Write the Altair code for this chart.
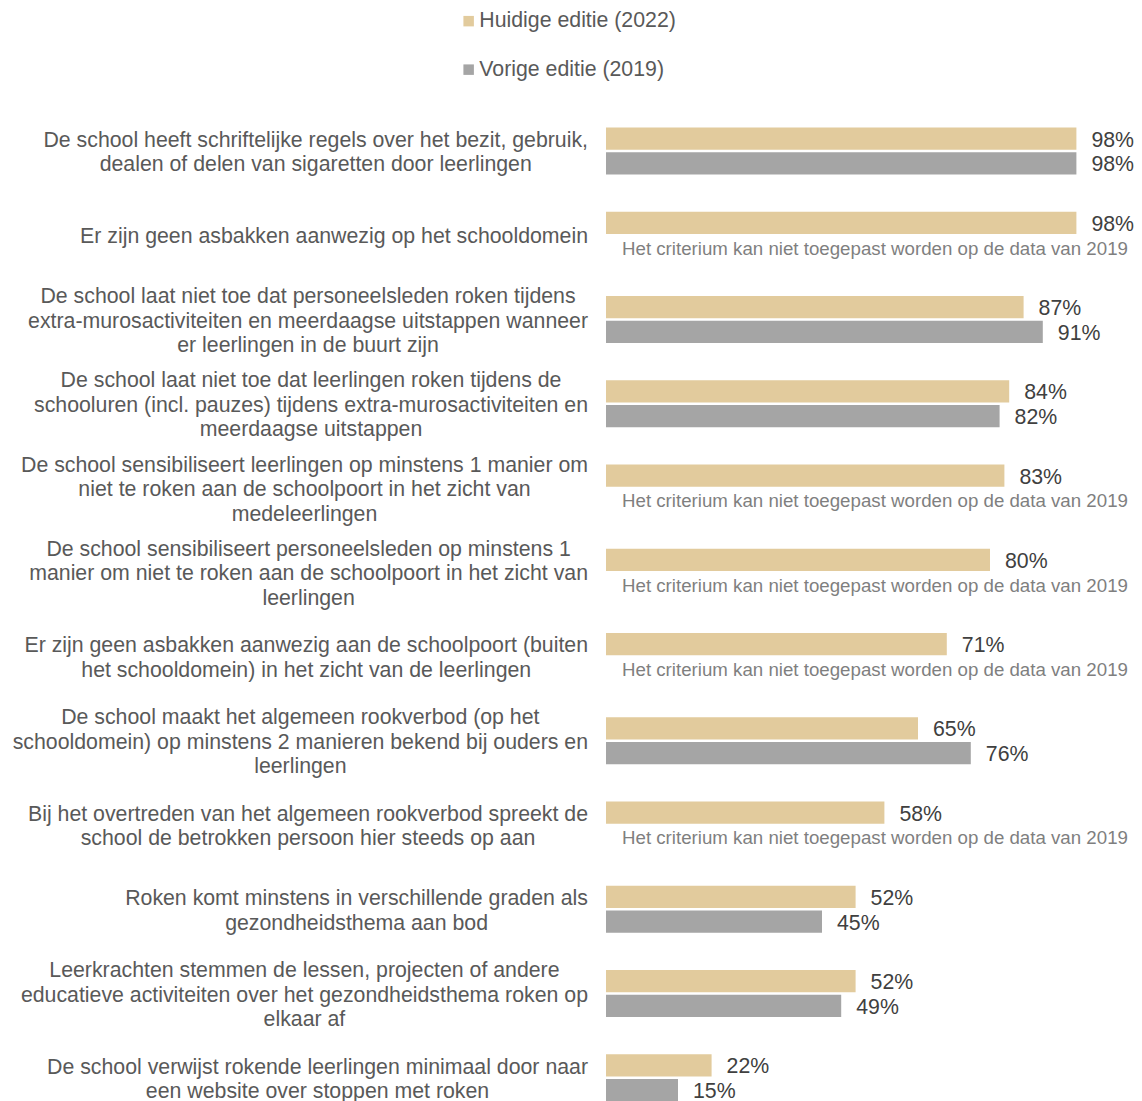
import altair as alt
import pandas as pd

# ---------------- data ----------------
categories = [
    "De school heeft schriftelijke regels over het bezit, gebruik,|dealen of delen van sigaretten door leerlingen",
    "Er zijn geen asbakken aanwezig op het schooldomein",
    "De school laat niet toe dat personeelsleden roken tijdens|extra-murosactiviteiten en meerdaagse uitstappen wanneer|er leerlingen in de buurt zijn",
    "De school laat niet toe dat leerlingen roken tijdens de|schooluren (incl. pauzes) tijdens extra-murosactiviteiten en|meerdaagse uitstappen",
    "De school sensibiliseert leerlingen op minstens 1 manier om|niet te roken aan de schoolpoort in het zicht van|medeleerlingen",
    "De school sensibiliseert personeelsleden op minstens 1|manier om niet te roken aan de schoolpoort in het zicht van|leerlingen",
    "Er zijn geen asbakken aanwezig aan de schoolpoort (buiten|het schooldomein) in het zicht van de leerlingen",
    "De school maakt het algemeen rookverbod (op het|schooldomein) op minstens 2 manieren bekend bij ouders en|leerlingen",
    "Bij het overtreden van het algemeen rookverbod spreekt de|school de betrokken persoon hier steeds op aan",
    "Roken komt minstens in verschillende graden als|gezondheidsthema aan bod",
    "Leerkrachten stemmen de lessen, projecten of andere|educatieve activiteiten over het gezondheidsthema roken op|elkaar af",
    "De school verwijst rokende leerlingen minimaal door naar|een website over stoppen met roken",
]
values_2022 = [98, 98, 87, 84, 83, 80, 71, 65, 58, 52, 52, 22]
values_2019 = [98, None, 91, 82, None, None, None, 76, None, 45, 49, 15]
series = ["Huidige editie (2022)", "Vorige editie (2019)"]
note_text = "Het criterium kan niet toegepast worden op de data van 2019"

# ---------------- styling / layout constants ----------------
FONT = "Liberation Sans"
LABEL_FS = 21.3
VALUE_FS = 21.3
NOTE_FS = 18.7
LINE_H = 24.5
TAN = "#E2CB9D"
GRAY = "#A5A5A5"
W, H = 1126, 1100
X0_PX = 598.0      # pixel position of 0 %
PX_PER = 4.8       # pixels per percentage point
DOMAIN = [-X0_PX / PX_PER, (W - X0_PX) / PX_PER]
LABEL_RIGHT_PX = 580.0
STEP = 84.25
FIRST_CENTER = 143.0
BAND = 47.0
P_IN = 1 - BAND / STEP
R0 = FIRST_CENTER - STEP / 2
TEXT_DY = 2

# Arial / Liberation Sans advance widths (per 1000 em) for text measurement
_AW = {' ': 278, '!': 278, '(': 333, ')': 333, ',': 278, '-': 333, '.': 278, '/': 278, ':': 278, '%': 889,
       'A': 667, 'B': 667, 'C': 722, 'D': 722, 'E': 667, 'F': 611, 'G': 778, 'H': 722, 'I': 278, 'J': 500,
       'K': 667, 'L': 556, 'M': 833, 'N': 722, 'O': 778, 'P': 667, 'Q': 778, 'R': 722, 'S': 667, 'T': 611,
       'U': 722, 'V': 667, 'W': 944, 'X': 667, 'Y': 667, 'Z': 611,
       'a': 556, 'b': 556, 'c': 500, 'd': 556, 'e': 556, 'f': 278, 'g': 556, 'h': 556, 'i': 222, 'j': 222,
       'k': 500, 'l': 222, 'm': 833, 'n': 556, 'o': 556, 'p': 556, 'q': 556, 'r': 333, 's': 500, 't': 278,
       'u': 556, 'v': 500, 'w': 722, 'x': 500, 'y': 500, 'z': 500}


def text_width(s, fs):
    return sum(_AW.get(c, 556) for c in s) * fs / 1000.0


rows = []
for cat, a, b in zip(categories, values_2022, values_2019):
    rows.append({"cat": cat, "series": series[0], "value": a, "base": 0})
    rows.append({"cat": cat, "series": series[1], "value": b, "base": 0})
bars_df = pd.DataFrame(rows)

label_rows = []
for cat in categories:
    lines = cat.split("|")
    wmax = max(text_width(line, LABEL_FS) for line in lines)
    center_px = LABEL_RIGHT_PX - wmax / 2
    label_rows.append({"cat": cat, "n": len(lines), "cx": (center_px - X0_PX) / PX_PER})
labels_df = pd.DataFrame(label_rows)

# ---------------- encodings ----------------
y_enc = alt.Y("cat:N", sort=categories, axis=None,
              scale=alt.Scale(range=[R0, R0 + 12 * STEP], paddingInner=P_IN, paddingOuter=P_IN / 2))
yoff_enc = alt.YOffset("series:N", sort=series, scale=alt.Scale(paddingInner=0.1, paddingOuter=0))
x_scale = alt.Scale(domain=DOMAIN, nice=False, zero=False)

color_enc = alt.Color(
    "series:N",
    sort=series,
    scale=alt.Scale(domain=series, range=[TAN, GRAY]),
    legend=alt.Legend(
        orient="none", legendX=450, legendY=2.5, direction="vertical", title=None,
        symbolType="square", symbolSize=110, symbolStrokeWidth=0, symbolOpacity=1,
        labelFontSize=21.3, labelColor="#595959", labelFont=FONT, labelLimit=400,
        rowPadding=26.5, labelOffset=0, padding=0,
    ),
)

bars = alt.Chart(bars_df).mark_bar().encode(
    x=alt.X("value:Q", scale=x_scale, axis=None, stack=None),
    y=y_enc,
    yOffset=yoff_enc,
    color=color_enc,
)

value_text = alt.Chart(bars_df).transform_filter(
    "isValid(datum.value)"
).transform_calculate(
    lbl="format(datum.value, 'd') + '%'"
).mark_text(
    align="left", baseline="middle", dx=15, dy=TEXT_DY, fontSize=VALUE_FS, font=FONT, color="#404040"
).encode(
    x=alt.X("value:Q", scale=x_scale, axis=None),
    y=y_enc,
    yOffset=yoff_enc,
    text="lbl:N",
)

notes = alt.Chart(bars_df).transform_filter(
    "!isValid(datum.value)"
).mark_text(
    align="left", baseline="middle", dx=16, dy=1, fontSize=NOTE_FS, font=FONT, color="#7F7F7F"
).encode(
    x=alt.X("base:Q", scale=x_scale, axis=None),
    y=y_enc,
    yOffset=yoff_enc,
    text=alt.value(note_text),
)


def label_layer(k):
    return alt.Chart(labels_df).transform_filter(
        f"datum.n == {k}"
    ).transform_calculate(
        lines="split(datum.cat, '|')"
    ).mark_text(
        align="center", baseline="middle", fontSize=LABEL_FS, lineHeight=LINE_H, font=FONT,
        color="#595959", dy=TEXT_DY - (k - 1) * LINE_H / 2
    ).encode(
        x=alt.X("cx:Q", scale=x_scale, axis=None),
        y=y_enc,
        text="lines:N",
    )


chart = alt.layer(
    bars, value_text, notes, label_layer(1), label_layer(2), label_layer(3)
).properties(
    width=W, height=H, padding=0, autosize=alt.AutoSizeParams(type="none"), background="white"
).configure(font=FONT).configure_view(stroke=None)

chart.save("out.html", embed_options={"renderer": "svg", "actions": False})
